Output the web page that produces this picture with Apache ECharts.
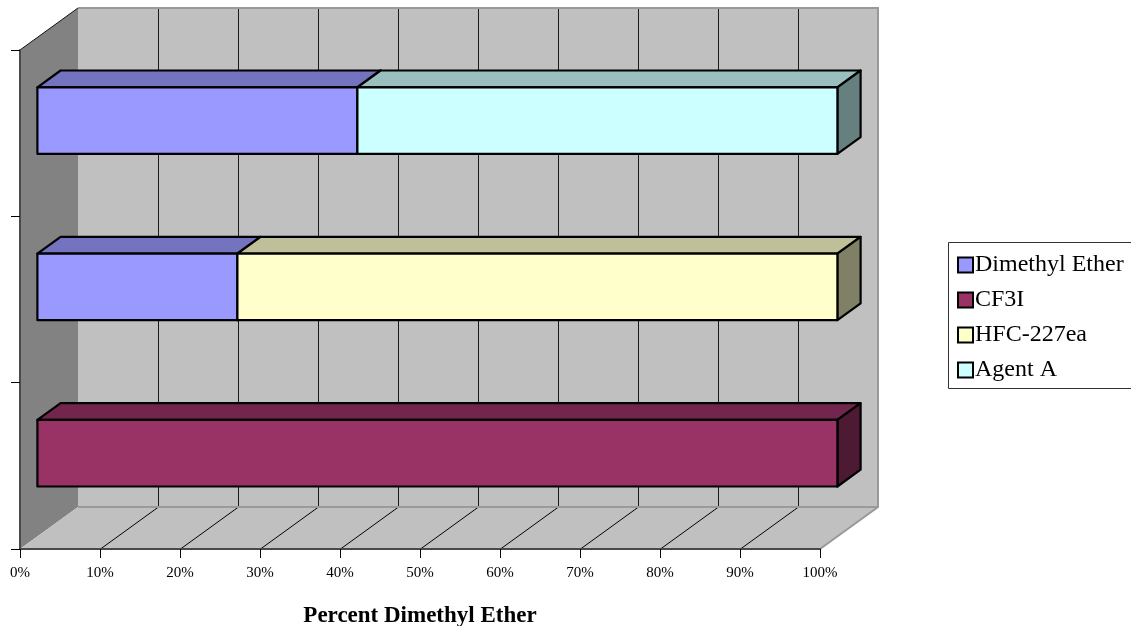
<!DOCTYPE html>
<html>
<head>
<meta charset="utf-8">
<script src="https://cdn.jsdelivr.net/npm/echarts@6/dist/echarts.min.js"></script>
<style>
html,body{margin:0;padding:0;background:#ffffff;}
#chart{width:1131px;height:626px;}
</style>
</head>
<body>
<div id="chart"></div>
<script>
// ---- data ----
const categories = ['CF3I', 'HFC-227ea blend', 'Agent A blend']; // bottom to top
const xTickValues = [0, 10, 20, 30, 40, 50, 60, 70, 80, 90, 100];
const seriesNames = ['Dimethyl Ether', 'CF3I', 'HFC-227ea', 'Agent A'];
const dimethylEther = [0, 25, 40];
const cf3i = [100, 0, 0];
const hfc227ea = [0, 75, 0];
const agentA = [0, 0, 60];
const axisTitle = 'Percent Dimethyl Ether';

// ---- styles ----
const FONT = '"Liberation Serif", "Times New Roman", serif';
const DEPTH_X = 58, DEPTH_Y = -42;      // 3D depth offset of the walls (px)
const BAR_FRONT = 0.3, BAR_BACK = 0.7;  // bar depth position (fraction of depth)
const BAR_HEIGHT = 0.4;                 // bar thickness (fraction of band)
const faceColors = {
  'Dimethyl Ether': {front: '#9999FF', top: '#7373BF', side: '#5C5C99'},
  'CF3I':           {front: '#993366', top: '#73264D', side: '#4D1A33'},
  'HFC-227ea':      {front: '#FFFFCC', top: '#BFBF99', side: '#808066'},
  'Agent A':        {front: '#CCFFFF', top: '#99BFBF', side: '#668080'}
};

const seriesValues = [dimethylEther, cf3i, hfc227ea, agentA];

// stacked start/end per category
const cumulative = categories.map(() => 0);
const stacked = seriesValues.map(vals => {
  const items = [];
  vals.forEach((v, i) => {
    if (v > 0) {
      items.push([cumulative[i], cumulative[i] + v, i]);
    }
    cumulative[i] += v;
  });
  return items;
});

function renderWalls(params, api) {
  const cs = params.coordSys;
  const x0 = cs.x, x1 = cs.x + cs.width, yT = cs.y, yB = cs.y + cs.height;
  const dx = DEPTH_X, dy = DEPTH_Y;
  const children = [];
  // left wall
  children.push({type: 'polygon', shape: {points: [[x0, yT], [x0 + dx, yT + dy], [x0 + dx, yB + dy], [x0, yB]]},
    style: {fill: '#828282', stroke: null}});
  // back wall
  children.push({type: 'rect', shape: {x: x0 + dx, y: yT + dy, width: cs.width, height: cs.height},
    style: {fill: '#C0C0C0', stroke: null}});
  // floor
  children.push({type: 'polygon', shape: {points: [[x0, yB], [x0 + dx, yB + dy], [x1 + dx, yB + dy], [x1, yB]]},
    style: {fill: '#C0C0C0', stroke: null}});
  // gridlines
  xTickValues.forEach(v => {
    if (v <= 0 || v >= 100) return;
    const px = Math.round(api.coord([v, 0])[0]) + 0.5;
    children.push({type: 'line', shape: {x1: px + dx, y1: yT + dy, x2: px + dx, y2: yB + dy},
      style: {stroke: '#1a1a1a', lineWidth: 1}});
    children.push({type: 'line', shape: {x1: px, y1: yB, x2: px + dx, y2: yB + dy},
      style: {stroke: '#000', lineWidth: 1}});
  });
  // wall edges
  children.push({type: 'polyline', shape: {points: [[x0 + dx, yB + dy], [x1 + dx, yB + dy]]},
    style: {stroke: '#9a9a9a', lineWidth: 2, fill: null}});
  children.push({type: 'polyline', shape: {points: [[x0 + dx, yT + dy], [x1 + dx, yT + dy], [x1 + dx, yB + dy], [x1, yB]]},
    style: {stroke: '#999999', lineWidth: 2, fill: null}});
  children.push({type: 'line', shape: {x1: x0, y1: yT, x2: x0 + dx, y2: yT + dy},
    style: {stroke: '#111', lineWidth: 1}});
  return {type: 'group', children};
}

function makeBarRenderer(name) {
  const c = faceColors[name];
  return function (params, api) {
    const start = api.value(0), end = api.value(1), cat = api.value(2);
    const p0 = api.coord([start, cat]);
    const p1 = api.coord([end, cat]);
    const band = api.size([0, 1])[1];
    const h = band * BAR_HEIGHT;
    const fx = DEPTH_X * BAR_FRONT, fy = DEPTH_Y * BAR_FRONT;
    const bx = DEPTH_X * (BAR_BACK - BAR_FRONT), by = DEPTH_Y * (BAR_BACK - BAR_FRONT);
    const xl = p0[0] + fx, xr = p1[0] + fx;
    const top = p0[1] + fy - h / 2, bot = p0[1] + fy + h / 2;
    const stroke = {stroke: '#000', lineWidth: 2.2, lineJoin: 'round'};
    return {type: 'group', children: [
      {type: 'polygon', shape: {points: [[xl, top], [xr, top], [xr + bx, top + by], [xl + bx, top + by]]},
        style: Object.assign({fill: c.top}, stroke)},
      {type: 'polygon', shape: {points: [[xr, top], [xr + bx, top + by], [xr + bx, bot + by], [xr, bot]]},
        style: Object.assign({fill: c.side}, stroke)},
      {type: 'rect', shape: {x: xl, y: top, width: xr - xl, height: bot - top},
        style: Object.assign({fill: c.front}, stroke)}
    ]};
  };
}

const series = [{
  type: 'custom',
  name: '__walls',
  silent: true,
  z: 1,
  renderItem: renderWalls,
  data: [[0, 0, 0]],
  encode: {x: 0, y: 2},
  clip: false
}];
seriesNames.forEach((name, k) => {
  series.push({
    type: 'custom',
    name: name,
    z: k === 0 ? 2 : 3,
    renderItem: makeBarRenderer(name),
    itemStyle: {color: faceColors[name].front, borderColor: '#000', borderWidth: 2},
    data: stacked[k],
    encode: {x: [0, 1], y: 2},
    clip: false
  });
});

const chart = echarts.init(document.getElementById('chart'), null, {renderer: 'canvas'});
chart.setOption({
  animation: false,
  backgroundColor: '#ffffff',
  grid: {left: 20, top: 50, width: 800, height: 499, containLabel: false, outerBoundsMode: 'none'},
  xAxis: {
    type: 'value', min: 0, max: 100, interval: 10, z: 10,
    axisLine: {show: true, lineStyle: {color: '#4a4a4a', width: 2}},
    axisTick: {show: true, length: 9, lineStyle: {color: '#000', width: 1}},
    axisLabel: {formatter: '{value}%', color: '#000', fontFamily: FONT, fontSize: 15, margin: 17},
    splitLine: {show: false},
    name: axisTitle, nameLocation: 'middle', nameGap: 56,
    nameTextStyle: {color: '#000', fontFamily: FONT, fontSize: 23, fontWeight: 'bold'}
  },
  yAxis: {
    type: 'category', data: categories, boundaryGap: true, z: 10,
    axisLine: {show: true, lineStyle: {color: '#4a4a4a', width: 2}},
    axisTick: {show: true, length: 9, lineStyle: {color: '#000', width: 1}},
    axisLabel: {show: false},
    splitLine: {show: false}
  },
  legend: {
    orient: 'vertical',
    left: 948, top: 242,
    data: seriesNames.map(n => ({name: n, icon: 'rect'})),
    itemWidth: 15, itemHeight: 15, itemGap: 11,
    padding: [11, 10, 8, 9],
    borderWidth: 0,
    itemStyle: {borderColor: '#000', borderWidth: 2},
    textStyle: {color: '#000', fontFamily: FONT, fontSize: 24, lineHeight: 24, padding: [0, 0, 0, -3]},
    selectedMode: false
  },
  graphic: [{
    type: 'rect', silent: true, z: 0,
    shape: {x: 948.5, y: 242.5, width: 240, height: 146},
    style: {fill: 'none', stroke: '#333', lineWidth: 1}
  }],
  series: series
});
</script>
</body>
</html>
